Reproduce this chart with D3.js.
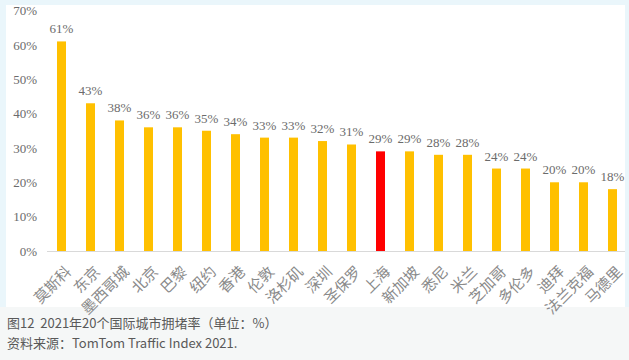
<!DOCTYPE html>
<html>
<head>
<meta charset="utf-8">
<script src="https://cdn.jsdelivr.net/npm/d3@7"></script>
<style>
  html, body { margin: 0; padding: 0; }
  body { width: 629px; height: 360px; background: #f5f7f7; overflow: hidden; }
  svg { display: block; }
</style>
</head>
<body>
<div id="chart"></div>
<script>
// city names (x axis)
var cities = ['莫斯科', '东京', '墨西哥城', '北京', '巴黎', '纽约', '香港', '伦敦', '洛杉矶', '深圳',
              '圣保罗', '上海', '新加坡', '悉尼', '米兰', '芝加哥', '多伦多', '迪拜', '法兰克福', '马德里'];
// congestion rate, %
var rates = [61, 43, 38, 36, 36, 35, 34, 33, 33, 32, 31, 29, 29, 28, 28, 24, 24, 20, 20, 18];
var yTicks = [0, 10, 20, 30, 40, 50, 60, 70];
var highlight = '上海';

var captionLines = ['图12  2021年20个国际城市拥堵率（单位：%）', '资料来源：TomTom Traffic Index 2021.'];

var W = 629, H = 360;

var svg = d3.select('#chart').append('svg')
    .attr('width', W)
    .attr('height', H);

// page background: bluish strip round the white chart box
svg.append('rect')
    .attr('x', 0).attr('y', 0)
    .attr('width', W).attr('height', 307)
    .attr('fill', '#eaf6fb');
svg.append('rect')
    .attr('x', 6).attr('y', 5)
    .attr('width', 619).attr('height', 302)
    .attr('fill', '#ffffff');

var x = d3.scaleBand()
    .domain(cities)
    .range([47, 627])
    .paddingInner(0.69)
    .paddingOuter(0.345);

var y = d3.scaleLinear()
    .domain([0, 70])
    .range([251, 10.5]);

// y axis labels only (no line, no ticks)
var yAxis = svg.append('g')
    .attr('transform', 'translate(37,0)')
    .call(d3.axisLeft(y).tickValues(yTicks).tickSize(0).tickPadding(0)
            .tickFormat(function(d) { return d + '%'; }));
yAxis.attr('font-family', null).attr('font-size', null);
yAxis.select('.domain').remove();
yAxis.selectAll('text')
    .attr('fill', '#6b6b6b')
    .style('font-family', '"Liberation Serif", "DejaVu Serif", serif')
    .style('font-size', '13px');

// bars
svg.selectAll('rect.bar')
    .data(rates)
    .enter().append('rect')
    .attr('class', 'bar')
    .attr('x', function(d, i) { return x(cities[i]); })
    .attr('y', function(d) { return y(d); })
    .attr('width', x.bandwidth())
    .attr('height', function(d) { return y(0) - y(d); })
    .attr('fill', function(d, i) { return cities[i] === highlight ? '#ff0000' : '#ffc000'; });

// baseline
var xAxis = svg.append('g')
    .attr('transform', 'translate(0,' + y(0) + ')')
    .call(d3.axisBottom(x).tickSize(0).tickFormat(''));
xAxis.select('.domain')
    .attr('stroke', '#d9d9d9')
    .attr('d', 'M47,0.5H625');

// value labels
svg.selectAll('text.val')
    .data(rates)
    .enter().append('text')
    .attr('class', 'val')
    .attr('x', function(d, i) { return x(cities[i]) + x.bandwidth() / 2; })
    .attr('y', function(d) { return y(d) - 8; })
    .attr('text-anchor', 'middle')
    .attr('fill', '#6b6b6b')
    .style('font-family', '"Liberation Serif", serif')
    .style('font-size', '13px')
    .text(function(d) { return d + '%'; });

// rotated city labels
svg.selectAll('text.city')
    .data(cities)
    .enter().append('text')
    .attr('class', 'city')
    .attr('transform', function(d) {
        var cx = x(d) + x.bandwidth() / 2 + 7;
        return 'translate(' + cx + ',' + 269 + ') rotate(-45)';
    })
    .attr('text-anchor', 'end')
    .attr('dy', '0.35em')
    .attr('fill', '#8a8a8a')
    .style('font-family', '"Noto Sans CJK SC", sans-serif')
    .style('font-size', '15px')
    .text(function(d) { return d; });

// caption under the chart box
svg.selectAll('text.caption')
    .data(captionLines)
    .enter().append('text')
    .attr('class', 'caption')
    .attr('x', 7)
    .attr('y', function(d, i) { return 328 + i * 20; })
    .attr('fill', '#595959')
    .style('white-space', 'pre')
    .style('font-family', '"Noto Sans CJK SC", sans-serif')
    .style('font-size', '13px')
    .text(function(d) { return d; });
</script>
</body>
</html>
